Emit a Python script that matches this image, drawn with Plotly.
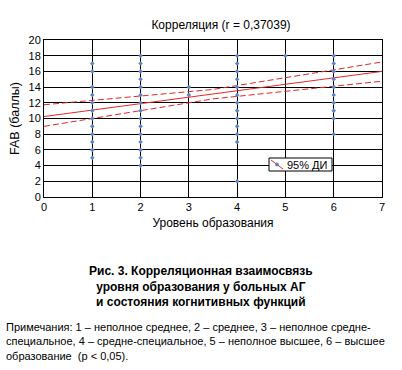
import plotly.graph_objects as go

# ---- data ----
edu_level = [1]*12 + [2]*15 + [3]*2 + [4]*13 + [5] + [6]*10
fab_score = ([17, 16, 14, 13, 12, 11, 10, 9, 8, 7, 6, 5] +
             [18, 17, 16, 15, 14, 13, 12, 11, 10, 9, 8, 7, 6, 5, 4] +
             [14, 13] +
             [18, 17, 16, 15, 14, 13, 12, 11, 10, 9, 8, 7, 2] +
             [18] +
             [18, 17, 16, 15, 14, 13, 12, 11, 10, 8])

fit_x = [0, 3.5, 7]
fit_y = [10.25, 13.1, 16.0]
ci_upper = [11.75, 13.7, 17.2]
ci_lower = [9.0, 12.5, 14.75]

x_ticks = [0, 1, 2, 3, 4, 5, 6, 7]
y_ticks = [0, 2, 4, 6, 8, 10, 12, 14, 16, 18, 20]

title = "Корреляция (r = 0,37039)"
x_label = "Уровень образования"
y_label = "FAB (баллы)"
legend_label = "95% ДИ"
caption = ("<b>Рис. 3. Корреляционная взаимосвязь<br>"
           "уровня образования у больных АГ<br>"
           "и состояния когнитивных функций</b>")
notes = ("Примечания: 1 – неполное среднее, 2 – среднее, 3 – неполное средне-<br>"
         "специальное, 4 – средне-специальное, 5 – неполное высшее, 6 – высшее<br>"
         "образование  (p &lt; 0,05).")

FONT = "Liberation Sans, Arial, sans-serif"
RED = "#e8262a"
BLUE = "#5b85c8"

L, R, T, B = 44, 20, 40, 173
PW, PH = 402 - L - R, 370 - T - B


def px(xpix):
    return (xpix - L) / PW


def py(ypix):
    return (370 - B - ypix) / PH


fig = go.Figure()
fig.add_trace(go.Scatter(x=fit_x, y=ci_upper, mode="lines", showlegend=False,
                         line=dict(color=RED, width=1, dash="6px,3px")))
fig.add_trace(go.Scatter(x=fit_x, y=ci_lower, mode="lines", showlegend=False,
                         line=dict(color=RED, width=1, dash="6px,3px")))
fig.add_trace(go.Scatter(x=fit_x, y=fit_y, mode="lines", showlegend=False,
                         line=dict(color=RED, width=1)))
fig.add_trace(go.Scatter(x=edu_level, y=fab_score, mode="markers", showlegend=False,
                         marker=dict(color=BLUE, size=3.5, symbol="diamond")))

fig.update_layout(
    width=402, height=370,
    margin=dict(l=L, r=R, t=T, b=B, pad=0),
    paper_bgcolor="white", plot_bgcolor="white",
    font=dict(family=FONT, size=11, color="black"),
    title=dict(text=title, x=px(221), xref="paper", xanchor="center",
               y=1 - 25 / 370, yanchor="middle", font=dict(size=12)),
    showlegend=False,
    xaxis=dict(range=[0, 7], tickvals=x_ticks, showgrid=True, gridcolor="black",
               gridwidth=1, zeroline=False, showline=True, linecolor="black",
               mirror=True, linewidth=1, ticks="", automargin=False,
               title=dict(text=x_label, standoff=6, font=dict(size=12)),
               tickfont=dict(size=11)),
    yaxis=dict(range=[0, 20], tickvals=y_ticks, showgrid=True, gridcolor="black",
               gridwidth=1, zeroline=False, showline=True, linecolor="black",
               mirror=True, linewidth=1, ticks="", automargin=False,
               title=dict(text=y_label, standoff=6, font=dict(size=12.5)),
               tickfont=dict(size=11)),
)

# legend box (drawn by hand to match the small boxed legend)
fig.add_shape(type="rect", xref="paper", yref="paper",
              x0=px(269), x1=px(332), y0=py(171), y1=py(158),
              line=dict(color="black", width=1), fillcolor="white", layer="above")
fig.add_shape(type="line", xref="paper", yref="paper",
              x0=px(271), x1=px(283), y0=py(160), y1=py(169),
              line=dict(color=RED, width=1), layer="above")
fig.add_shape(type="circle", xref="paper", yref="paper",
              x0=px(275.5), x1=px(278.5), y0=py(166), y1=py(163),
              line=dict(color=BLUE, width=1), fillcolor=BLUE, layer="above")
fig.add_annotation(text=legend_label, xref="paper", yref="paper", x=px(285), y=py(164.5),
                   xanchor="left", yanchor="middle", showarrow=False,
                   font=dict(size=11, family=FONT))

fig.add_annotation(text=caption, xref="paper", yref="paper", x=px(201), y=py(262),
                   xanchor="center", yanchor="top", showarrow=False, align="center",
                   font=dict(size=12, family=FONT))
fig.add_annotation(text=notes, xref="paper", yref="paper", x=px(4), y=py(319),
                   xanchor="left", yanchor="top", showarrow=False, align="left",
                   font=dict(size=11, family=FONT))

fig.write_html("out.html", config={"displayModeBar": False},
               post_script="document.body.style.margin='0';")
